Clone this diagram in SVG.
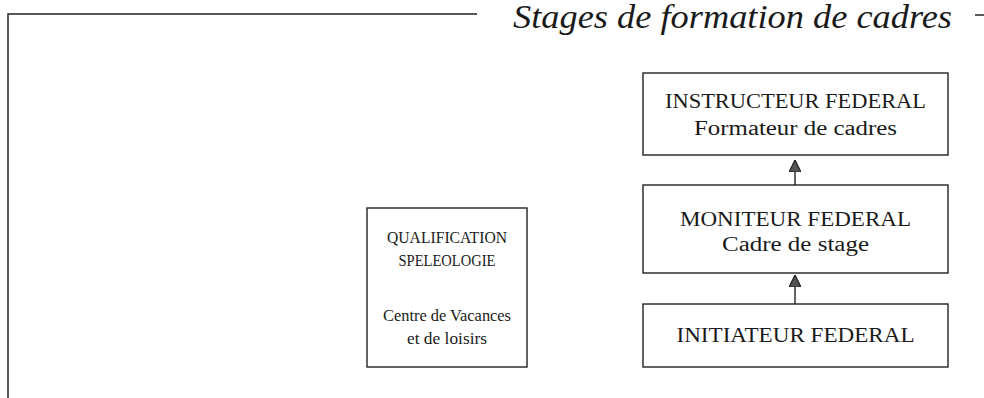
<svg xmlns="http://www.w3.org/2000/svg" width="984" height="398" viewBox="0 0 984 398">
<defs>
<style>
.box{fill:#fff;stroke:#222;stroke-width:1.4}
.frame{fill:none;stroke:#222;stroke-width:1.5}
.t{font-family:"Liberation Serif","Times New Roman",serif;font-size:20px;fill:#1a1a1a;text-anchor:middle}
.q{font-size:17.5px}
.title{font-family:"Liberation Serif","Times New Roman",serif;font-style:italic;font-size:33px;fill:#1a1a1a}
.conn{stroke:#222;stroke-width:1.4;fill:none}
</style>
<marker id="arr" viewBox="0 0 10 10" refX="10" refY="5" markerWidth="12" markerHeight="12" markerUnits="userSpaceOnUse" orient="auto">
<path d="M0,0 L10,5 L0,10 Z" fill="#555" stroke="#222" stroke-width="1"/>
</marker>
</defs>
<g id="frame">
<path class="frame" d="M8,398 L8,14 L477,14"/>
<path class="frame" d="M975,15 L984,15"/>
<text class="title" x="513" y="28" textLength="439" lengthAdjust="spacingAndGlyphs">Stages de formation de cadres</text>
</g>
<g id="connectors">
<path class="conn" d="M795,185 L795,160" marker-end="url(#arr)"/>
<path class="conn" d="M795,304 L795,275" marker-end="url(#arr)"/>
</g>
<g id="instructeur">
<rect class="box" x="643" y="73" width="305" height="82"/>
<text class="t" x="795.5" y="108" textLength="261" lengthAdjust="spacingAndGlyphs">INSTRUCTEUR FEDERAL</text>
<text class="t" x="795.5" y="135" textLength="203" lengthAdjust="spacingAndGlyphs">Formateur de cadres</text>
</g>
<g id="moniteur">
<rect class="box" x="643" y="185" width="305" height="88"/>
<text class="t" x="795.5" y="226" textLength="231" lengthAdjust="spacingAndGlyphs">MONITEUR FEDERAL</text>
<text class="t" x="795.5" y="251" textLength="147" lengthAdjust="spacingAndGlyphs">Cadre de stage</text>
</g>
<g id="initiateur">
<rect class="box" x="643" y="304" width="305" height="63"/>
<text class="t" x="795.5" y="342" textLength="238" lengthAdjust="spacingAndGlyphs">INITIATEUR FEDERAL</text>
</g>
<g id="qualification">
<rect class="box" x="367" y="208" width="160" height="159"/>
<text class="t q" x="447" y="243" textLength="120" lengthAdjust="spacingAndGlyphs">QUALIFICATION</text>
<text class="t q" x="447" y="266" textLength="97" lengthAdjust="spacingAndGlyphs">SPELEOLOGIE</text>
<text class="t q" x="447" y="321" textLength="128" lengthAdjust="spacingAndGlyphs">Centre de Vacances</text>
<text class="t q" x="447" y="344" textLength="80" lengthAdjust="spacingAndGlyphs">et de loisirs</text>
</g>
</svg>
